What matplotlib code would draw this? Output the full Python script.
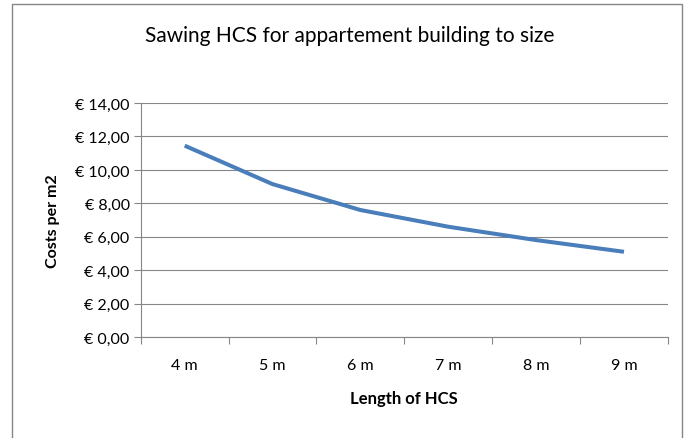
import matplotlib.pyplot as plt
from matplotlib.patches import Rectangle
from matplotlib.ticker import FixedLocator, FuncFormatter

plt.rcParams['font.family'] = ['Lato', 'DejaVu Sans']

# Kosten per m2 per lengte van de kanaalplaat
lengths = ['4 m', '5 m', '6 m', '7 m', '8 m', '9 m']
costs = [11.45, 9.15, 7.6, 6.6, 5.8, 5.1]
y_ticks = [0, 2, 4, 6, 8, 10, 12, 14]

grid_grey = '#868686'
line_blue = '#4A7EBB'

fig = plt.figure(figsize=(6.9, 4.39), dpi=100)
fig.patches.append(Rectangle((12 / 690, -0.05), 670 / 690, 1.05 - 5 / 439,
                             transform=fig.transFigure, fill=False,
                             edgecolor=grid_grey, linewidth=1.0))

ax = fig.add_axes([0.204, 0.230, 0.764, 0.533])
x = list(range(len(lengths)))
ax.plot(x, costs, color=line_blue, linewidth=2.9, solid_capstyle='butt', zorder=3)

ax.set_xlim(-0.5, len(lengths) - 0.5)
ax.set_ylim(0, 14)

# categorie-grenzen als tickmarks, labels in het midden
ax.xaxis.set_major_locator(FixedLocator([i - 0.5 for i in range(len(lengths) + 1)]))
ax.xaxis.set_minor_locator(FixedLocator(x))
ax.set_xticklabels([])
ax.set_xticklabels(lengths, minor=True)
ax.tick_params(axis='x', which='major', length=5, color=grid_grey, width=0.8)
ax.tick_params(axis='x', which='minor', length=0, pad=15, labelsize=11.5)

ax.set_yticks(y_ticks)
ax.yaxis.set_major_formatter(FuncFormatter(lambda v, p: '€ {:.2f}'.format(v).replace('.', ',')))
ax.tick_params(axis='y', length=5, color=grid_grey, width=0.8, labelsize=11.5, pad=3)

ax.grid(axis='y', color=grid_grey, linewidth=0.8)
ax.set_axisbelow(True)
for side in ['top', 'right']:
    ax.spines[side].set_visible(False)
for side in ['left', 'bottom']:
    ax.spines[side].set_color(grid_grey)
    ax.spines[side].set_linewidth(0.8)

ax.set_xlabel('Length of HCS', fontsize=12, fontweight='bold', labelpad=13)
ax.set_ylabel('Costs per m2', fontsize=11.5, fontweight='bold', labelpad=11)
fig.text(0.507, 0.918, 'Sawing HCS for appartement building to size',
         ha='center', va='center', fontsize=15)

fig.savefig('out.png', dpi=100)
